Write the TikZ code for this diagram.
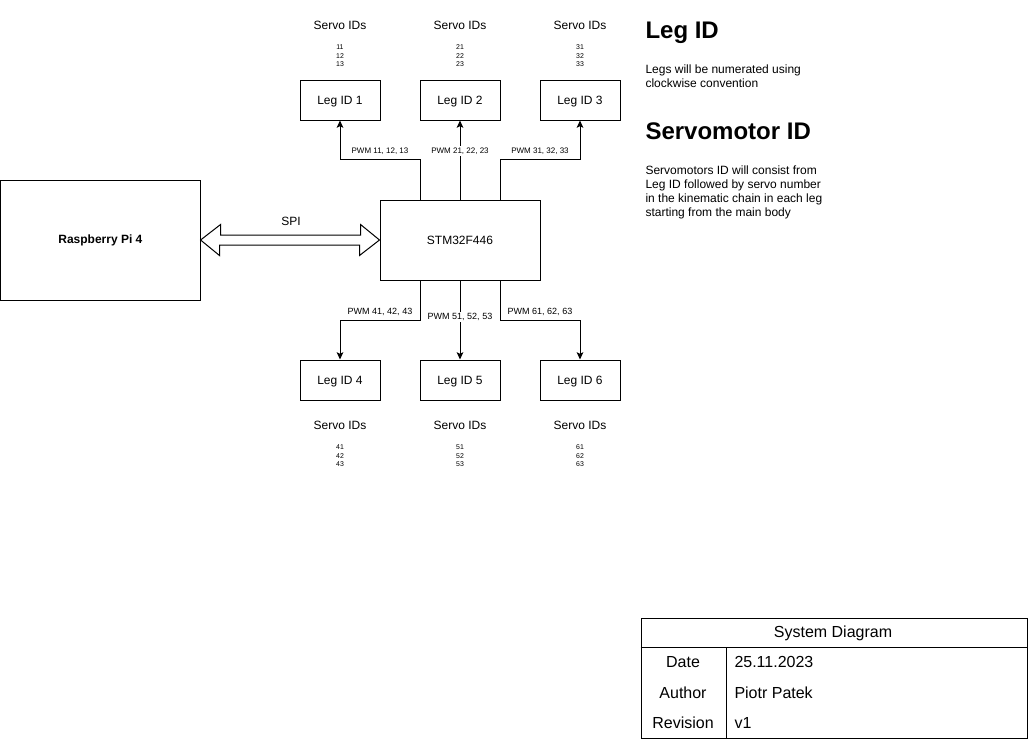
\documentclass[tikz,border=0pt]{standalone}
\usepackage{fontspec}
\setmainfont{Liberation Sans}
\usetikzlibrary{positioning, arrows.meta}

\tikzset{
  block/.style={draw, inner sep=0pt, font=\fontsize{9}{10.5}\selectfont},
  leg/.style={block, minimum width=60pt, minimum height=30pt, text depth=0pt},
  servo/.style={font=\fontsize{9}{10.5}\selectfont, inner sep=0pt},
  ids/.style={font=\fontsize{5.2}{6.5}\selectfont, align=center, inner sep=0pt},
  pwm/.style={font=\fontsize{6}{7}\selectfont},
  pwmlow/.style={font=\fontsize{6.75}{8}\selectfont},
  head/.style={font=\fontsize{18}{20}\selectfont\bfseries, inner sep=0pt},
  para/.style={font=\fontsize{9}{10.6}\selectfont, align=left, inner sep=0pt},
  cell/.style={font=\fontsize{12}{14}\selectfont, inner sep=0pt}
}

\begin{document}
\begin{tikzpicture}[x=0.75pt, y=-0.75pt, line width=0.75pt,
                    >={Stealth[length=5.5pt, width=5pt, inset=1.2pt]}]
        \useasboundingbox (0,0) rectangle (1029,739);
        % Draw the boards
        \node[block, minimum width=149.5pt, minimum height=90pt,
              font=\fontsize{9}{10.5}\selectfont\bfseries]
              at (100.4,240) (rpi) {Raspberry Pi 4};
        \node[block, minimum width=120pt, minimum height=60pt]
              at (460,240)   (stm) {STM32F446};
        % Draw the legs
        \node[leg] at (340,100) (leg1) {Leg ID 1};
        \node[leg] at (460,100) (leg2) {Leg ID 2};
        \node[leg] at (580,100) (leg3) {Leg ID 3};
        \node[leg] at (340,380) (leg4) {Leg ID 4};
        \node[leg] at (460,380) (leg5) {Leg ID 5};
        \node[leg] at (580,380) (leg6) {Leg ID 6};
        % Servo IDs of each leg
        \node[servo] at (340,25)    (s1) {Servo IDs};
        \node[servo] at (460,25)    (s2) {Servo IDs};
        \node[servo] at (580,25)    (s3) {Servo IDs};
        \node[servo] at (340,425)   (s4) {Servo IDs};
        \node[servo] at (460,425)   (s5) {Servo IDs};
        \node[servo] at (580,425)   (s6) {Servo IDs};
        \node[ids]   at (340,55.8)  (n1) {11\\12\\13};
        \node[ids]   at (460,55.8)  (n2) {21\\22\\23};
        \node[ids]   at (580,55.8)  (n3) {31\\32\\33};
        \node[ids]   at (340,455.8) (n4) {41\\42\\43};
        \node[ids]   at (460,455.8) (n5) {51\\52\\53};
        \node[ids]   at (580,455.8) (n6) {61\\62\\63};
        % Connect the controller with the legs
        \draw[->] ([xshift=-30pt]stm.north) -- ++(0,-40)
            -| node[pwm, pos=0.25, above] {PWM 11, 12, 13} (leg1.south);
        \draw[->] (stm.north) -- node[pwm, pos=0.6125, fill=white, inner sep=1pt] {PWM 21, 22, 23} (leg2.south);
        \draw[->] ([xshift=30pt]stm.north) -- ++(0,-40)
            -| node[pwm, pos=0.25, above] {PWM 31, 32, 33} (leg3.south);
        \draw[->] ([xshift=-30pt]stm.south) -- ++(0,40)
            -| node[pwmlow, pos=0.25, above] {PWM 41, 42, 43} (leg4.north);
        \draw[->] (stm.south) -- node[pwmlow, pos=0.4625, fill=white, inner sep=1pt] {PWM 51, 52, 53} (leg5.north);
        \draw[->] ([xshift=30pt]stm.south) -- ++(0,40)
            -| node[pwmlow, pos=0.25, above] {PWM 61, 62, 63} (leg6.north);
        % SPI link
        \draw (rpi.east) -- ++(20,-15.5) -- ++(0,10.5) -- ++(140,0) -- ++(0,-10.5)
            -- (stm.west) -- ++(-20,15.5) -- ++(0,-10.5) -- ++(-140,0) -- ++(0,10.5) -- cycle;
        \node[servo] at (291,221) (spi) {SPI};
        % Notes
        \node[head, anchor=base west] at (645,38.5) (h1) {Leg ID};
        \node[para, anchor=north west] at (645,64.5) (p1)
            {Legs will be numerated using\\clockwise convention};
        \node[head, anchor=base west] at (645,139) (h2) {Servomotor ID};
        \node[para, anchor=north west] at (645,165) (p2)
            {Servomotors ID will consist from\\Leg ID followed by servo number\\in the kinematic chain in each leg\\starting from the main body};
        % Title block
        \node[draw, anchor=north west, minimum width=289.5pt, minimum height=90pt, inner sep=0pt]
              at (640.5,617.5) (tbl) {};
        \draw ([yshift=-22.5pt]tbl.north west) -- ([yshift=-22.5pt]tbl.north east);
        \draw ([xshift=64.5pt, yshift=-22.5pt]tbl.north west) -- ([xshift=64.5pt]tbl.south west);
        \node[cell] at (833,633)  (title)   {System Diagram};
        \node[cell] at (683,662)  (date)    {Date};
        \node[cell] at (683,693)  (author)  {Author};
        \node[cell] at (683,723)  (rev)     {Revision};
        \node[cell, anchor=west] at (734,662) (dateval)   {25.11.2023};
        \node[cell, anchor=west] at (734,693) (authorval) {Piotr Patek};
        \node[cell, anchor=west] at (734,723) (revval)    {v1};
\end{tikzpicture}
\end{document}
